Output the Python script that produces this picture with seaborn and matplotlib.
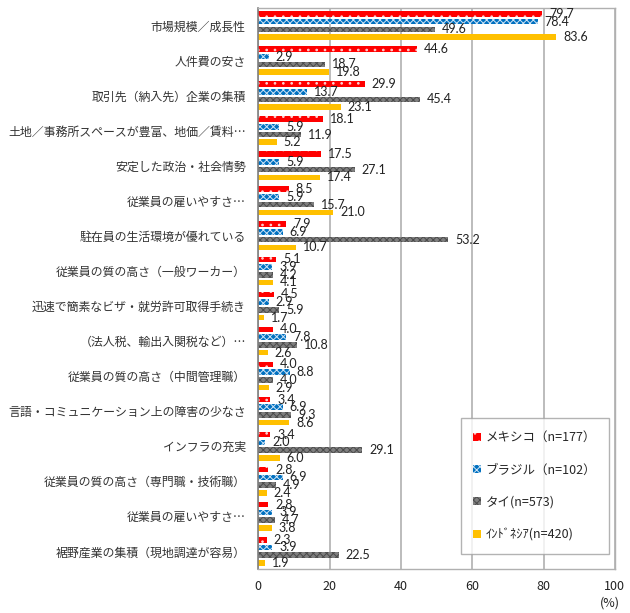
import pandas as pd
import numpy as np
import matplotlib
matplotlib.use('Agg')
import matplotlib.pyplot as plt
import seaborn as sns
from matplotlib.patches import Patch

# 項目ラベル
labels = ['市場規模／成長性', '人件費の安さ', '取引先（納入先）企業の集積',
          '土地／事務所スペースが豊富、地価／賃料…', '安定した政治・社会情勢',
          '従業員の雇いやすさ…', '駐在員の生活環境が優れている',
          '従業員の質の高さ（一般ワーカー）', '迅速で簡素なビザ・就労許可取得手続き',
          '（法人税、輸出入関税など）…', '従業員の質の高さ（中間管理職）',
          '言語・コミュニケーション上の障害の少なさ', 'インフラの充実',
          '従業員の質の高さ（専門職・技術職）', '従業員の雇いやすさ…',
          '裾野産業の集積（現地調達が容易）']

countries = ['メキシコ（n=177）', 'ブラジル（n=102）', 'タイ(n=573)', 'ｲﾝﾄﾞﾈｼｱ(n=420)']

mexico = [79.7, 44.6, 29.9, 18.1, 17.5, 8.5, 7.9, 5.1, 4.5, 4.0, 4.0, 3.4, 3.4, 2.8, 2.8, 2.3]
brazil = [78.4, 2.9, 13.7, 5.9, 5.9, 5.9, 6.9, 3.9, 2.9, 7.8, 8.8, 6.9, 2.0, 6.9, 3.9, 3.9]
thai = [49.6, 18.7, 45.4, 11.9, 27.1, 15.7, 53.2, 4.2, 5.9, 10.8, 4.0, 9.3, 29.1, 4.9, 4.7, 22.5]
indonesia = [83.6, 19.8, 23.1, 5.2, 17.4, 21.0, 10.7, 4.1, 1.7, 2.6, 2.9, 8.6, 6.0, 2.4, 3.8, 1.9]

colors = ['#FF0000', '#0070C0', '#7F7F7F', '#FFC000']
hatch_cols = ['#FFD0D0', '#CFE4F5', '#4A4A4A', '#FFC000']
hatches = ['..', 'xxxxx', 'xxxxx', '']

# 重複ラベルがあるのでキーは番号にする
keys = [f'{i:02d}' for i in range(len(labels))]
rows = []
for c, vals in zip(countries, [mexico, brazil, thai, indonesia]):
    for k, v in zip(keys, vals):
        rows.append({'key': k, 'country': c, 'value': v})
df = pd.DataFrame(rows)

sns.set_style('white')
plt.rcParams['font.family'] = ['Noto Sans CJK JP', 'DejaVu Sans']
plt.rcParams['hatch.linewidth'] = 0.7

fig = plt.figure(figsize=(6.3, 6.13), dpi=100)
ax = fig.add_axes([0.41, 0.072, 0.566, 0.915])

sns.barplot(data=df, y='key', x='value', hue='country', order=keys,
            hue_order=countries, palette=colors, orient='h', saturation=1,
            width=0.88, gap=0.28, legend=False, ax=ax)

for cont, h, hc in zip(ax.containers, hatches, hatch_cols):
    for bar in cont:
        bar.set_hatch(h)
        bar.set_edgecolor(hc)
        bar.set_linewidth(0)
    ax.bar_label(cont, fmt='%.1f', padding=5, fontsize=9,
                 family=['Lato', 'DejaVu Sans'], color='#222222')

ax.set_xlim(0, 100)
ax.set_xticks(range(0, 101, 20))
ax.set_yticks(range(len(labels)))
ax.set_yticklabels(labels, fontsize=8.6, color='#333333')
ax.tick_params(axis='y', length=0, pad=9)
ax.tick_params(axis='x', length=0, pad=8, labelsize=9, labelcolor='#222222')
ax.set_xlabel('')
ax.set_ylabel('')
ax.xaxis.grid(True, color='#B0B0B0', linewidth=1.2)
ax.set_axisbelow(True)
for s in ['top', 'right', 'bottom']:
    ax.spines[s].set_color('#B0B0B0')
    ax.spines[s].set_linewidth(1.0)
ax.spines['left'].set_color('#808080')
ax.spines['left'].set_linewidth(1.2)

handles = [Patch(facecolor=c, edgecolor=hc, hatch=h, linewidth=0)
           for c, hc, h in zip(colors, hatch_cols, hatches)]
leg = ax.legend(handles, countries, loc='lower left', bbox_to_anchor=(0.568, 0.027),
                fontsize=9, labelspacing=1.55, handlelength=0.6, handleheight=0.6,
                handletextpad=0.4, borderpad=1.0, frameon=True, fancybox=False,
                edgecolor='#A0A0A0', borderaxespad=0)
leg.get_frame().set_linewidth(1.0)

fig.text(0.968, 0.016, '(%)', ha='center', va='center', fontsize=9, color='#222222')

fig.savefig('out.png', dpi=100)
